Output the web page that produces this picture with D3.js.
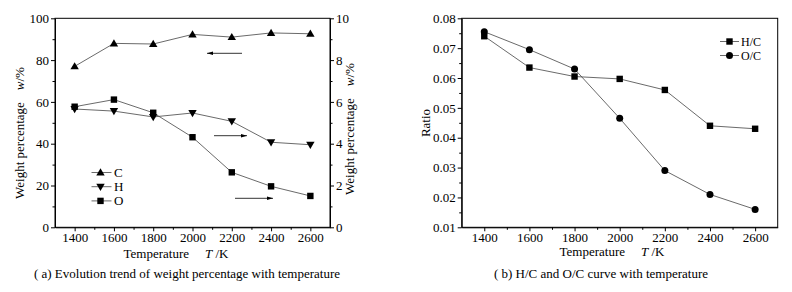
<!DOCTYPE html>
<html>
<head>
<meta charset="utf-8">
<script src="https://cdn.jsdelivr.net/npm/d3@7"></script>
<style>
  body { margin: 0; background: #fff; }
  svg { font-family: "Liberation Serif", "Times New Roman", serif; }
  .axis path, .axis line { stroke: #000; stroke-width: 1; }
  .axis text { font-size: 13px; fill: #000; font-family: "Liberation Serif", serif; }
</style>
</head>
<body>
<script>
// data
const temps = [1400, 1600, 1800, 2000, 2200, 2400, 2600];
const carbon = [77, 88, 87.7, 92.3, 91, 93, 92.6];       // left axis, %
const hydrogen = [5.66, 5.56, 5.28, 5.47, 5.07, 4.07, 3.95]; // right axis, %
const oxygen = [5.77, 6.11, 5.48, 4.31, 2.63, 1.96, 1.5];    // right axis, %
const hc = [0.074, 0.0635, 0.0605, 0.0597, 0.056, 0.044, 0.043];
const oc = [0.0755, 0.0695, 0.063, 0.0465, 0.029, 0.021, 0.016];

const xTicks = [1400, 1600, 1800, 2000, 2200, 2400, 2600];
const wLeftTicks = [0, 20, 40, 60, 80, 100];
const wRightTicks = [0, 2, 4, 6, 8, 10];
const ratioTicks = [0.01, 0.02, 0.03, 0.04, 0.05, 0.06, 0.07, 0.08];

const svg = d3.select("body").append("svg").attr("width", 792).attr("height", 292);

const plotTop = 18.3, plotBottom = 227.3;

// symbols
function marker(g, type, x, y) {
  if (type === "up") {
    g.append("path").attr("d", `M${x},${y - 4.2}L${x + 4.2},${y + 3}L${x - 4.2},${y + 3}Z`).attr("fill", "#000");
  } else if (type === "down") {
    g.append("path").attr("d", `M${x},${y + 4.2}L${x + 4.2},${y - 3}L${x - 4.2},${y - 3}Z`).attr("fill", "#000");
  } else if (type === "square") {
    g.append("rect").attr("x", x - 3.2).attr("y", y - 3.2).attr("width", 6.4).attr("height", 6.4).attr("fill", "#000");
  } else {
    g.append("circle").attr("cx", x).attr("cy", y).attr("r", 3.5).attr("fill", "#000");
  }
}

function series(g, x, y, vals, type) {
  const pts = temps.map((t, i) => [x(t), y(vals[i])]);
  g.append("path").attr("d", d3.line()(pts)).attr("fill", "none").attr("stroke", "#444").attr("stroke-width", 0.8);
  pts.forEach(p => marker(g, type, p[0], p[1]));
}

function minorAxis(g, axisFn, scale, values, transform) {
  g.append("g").attr("class", "axis").attr("transform", transform)
    .call(axisFn(scale).tickValues(values).tickSize(2.5).tickFormat("").tickSizeOuter(0))
    .select(".domain").remove();
}

function arrow(g, x1, x2, y) {
  g.append("line").attr("x1", x1).attr("x2", x2).attr("y1", y).attr("y2", y).attr("stroke", "#000").attr("stroke-width", 0.8);
  const dir = x2 > x1 ? 1 : -1;
  g.append("path").attr("d", `M${x2},${y}L${x2 - dir * 6},${y - 1.8}L${x2 - dir * 6},${y + 1.8}Z`).attr("fill", "#000");
}

function xLabel(g, cx, y) {
  const t = g.append("text").attr("x", cx).attr("y", y).attr("font-size", 13).attr("text-anchor", "middle");
  t.append("tspan").text("Temperature");
  t.append("tspan").attr("dx", 16).attr("font-style", "italic").text("T");
  t.append("tspan").text(" /K");
}

// ---------- chart (a) ----------
{
  const g = svg.append("g");
  const x = d3.scaleLinear().domain([1300, 2700]).range([55, 330]);
  const yL = d3.scaleLinear().domain([0, 100]).range([plotBottom, plotTop]);
  const yR = d3.scaleLinear().domain([0, 10]).range([plotBottom, plotTop]);

  g.append("rect").attr("x", 55).attr("y", plotTop).attr("width", 275).attr("height", plotBottom - plotTop)
    .attr("fill", "none").attr("stroke", "#000").attr("stroke-width", 1);

  g.append("g").attr("class", "axis").attr("transform", `translate(0,${plotBottom})`)
    .call(d3.axisBottom(x).tickValues(xTicks).tickSize(4).tickSizeOuter(0).tickPadding(1).tickFormat(d3.format("d")));
  minorAxis(g, d3.axisBottom, x, d3.range(1500, 2700, 200), `translate(0,${plotBottom})`);

  g.append("g").attr("class", "axis").attr("transform", "translate(55,0)")
    .call(d3.axisLeft(yL).tickValues(wLeftTicks).tickSize(4).tickSizeOuter(0).tickPadding(2));
  minorAxis(g, d3.axisLeft, yL, [10, 30, 50, 70, 90], "translate(55,0)");

  g.append("g").attr("class", "axis").attr("transform", "translate(330,0)")
    .call(d3.axisRight(yR).tickValues(wRightTicks).tickSize(4).tickSizeOuter(0).tickPadding(2));
  minorAxis(g, d3.axisRight, yR, [1, 3, 5, 7, 9], "translate(330,0)");

  series(g, x, yL, carbon, "up");
  series(g, x, yR, hydrogen, "down");
  series(g, x, yR, oxygen, "square");

  arrow(g, 242, 207, 53.3);
  arrow(g, 214, 247, 135.7);
  arrow(g, 235, 273, 198.3);

  // legend
  const legend = [["C", "up"], ["H", "down"], ["O", "square"]];
  legend.forEach((d, i) => {
    const ly = 172.5 + i * 14.2;
    g.append("line").attr("x1", 91.5).attr("x2", 111.5).attr("y1", ly).attr("y2", ly).attr("stroke", "#444").attr("stroke-width", 0.8);
    marker(g, d[1], 100.5, ly);
    g.append("text").attr("x", 114).attr("y", ly + 4.5).attr("font-size", 13).text(d[0]);
  });

  // y labels
  [[19, 133, -90], [349, 129, -90]].forEach(([lx, ly, r]) => {
    const t = g.append("text").attr("transform", `translate(${lx},${ly}) rotate(${r})`)
      .attr("text-anchor", "middle").attr("dy", "0.35em").attr("font-size", 13);
    t.append("tspan").text("Weight percentage");
    t.append("tspan").attr("dx", 12).attr("font-style", "italic").text("w");
    t.append("tspan").text("/%");
  });

  xLabel(g, 176, 258);
  g.append("text").attr("x", 187, ).attr("y", 278).attr("text-anchor", "middle").attr("font-size", 13)
    .text("( a)  Evolution trend of weight percentage with temperature");
}

// ---------- chart (b) ----------
{
  const g = svg.append("g");
  const x = d3.scaleLinear().domain([1300, 2700]).range([461.7, 777.7]);
  const y = d3.scaleLinear().domain([0.01, 0.08]).range([plotBottom, plotTop]);

  g.append("rect").attr("x", 461.7).attr("y", plotTop).attr("width", 316).attr("height", plotBottom - plotTop)
    .attr("fill", "none").attr("stroke", "#000").attr("stroke-width", 1);

  g.append("g").attr("class", "axis").attr("transform", `translate(0,${plotBottom})`)
    .call(d3.axisBottom(x).tickValues(xTicks).tickSize(4).tickSizeOuter(0).tickPadding(1).tickFormat(d3.format("d")));
  minorAxis(g, d3.axisBottom, x, d3.range(1500, 2700, 200), `translate(0,${plotBottom})`);

  g.append("g").attr("class", "axis").attr("transform", "translate(461.7,0)")
    .call(d3.axisLeft(y).tickValues(ratioTicks).tickSize(4).tickSizeOuter(0).tickPadding(2).tickFormat(d3.format(".2f")));
  minorAxis(g, d3.axisLeft, y, d3.range(0.015, 0.08, 0.01), "translate(461.7,0)");

  series(g, x, y, hc, "square");
  series(g, x, y, oc, "circle");

  const legend = [["H/C", "square"], ["O/C", "circle"]];
  legend.forEach((d, i) => {
    const ly = 41.5 + i * 14;
    g.append("line").attr("x1", 720).attr("x2", 739).attr("y1", ly).attr("y2", ly).attr("stroke", "#444").attr("stroke-width", 0.8);
    marker(g, d[1], 729.5, ly);
    g.append("text").attr("x", 741).attr("y", ly + 4.2).attr("font-size", 12).text(d[0]);
  });

  g.append("text").attr("transform", "translate(425,123) rotate(-90)").attr("text-anchor", "middle")
    .attr("dy", "0.35em").attr("font-size", 13).text("Ratio");

  xLabel(g, 612, 256);
  g.append("text").attr("x", 601).attr("y", 278).attr("text-anchor", "middle").attr("font-size", 13)
    .text("( b)  H/C and O/C curve with temperature");
}
</script>
</body>
</html>
